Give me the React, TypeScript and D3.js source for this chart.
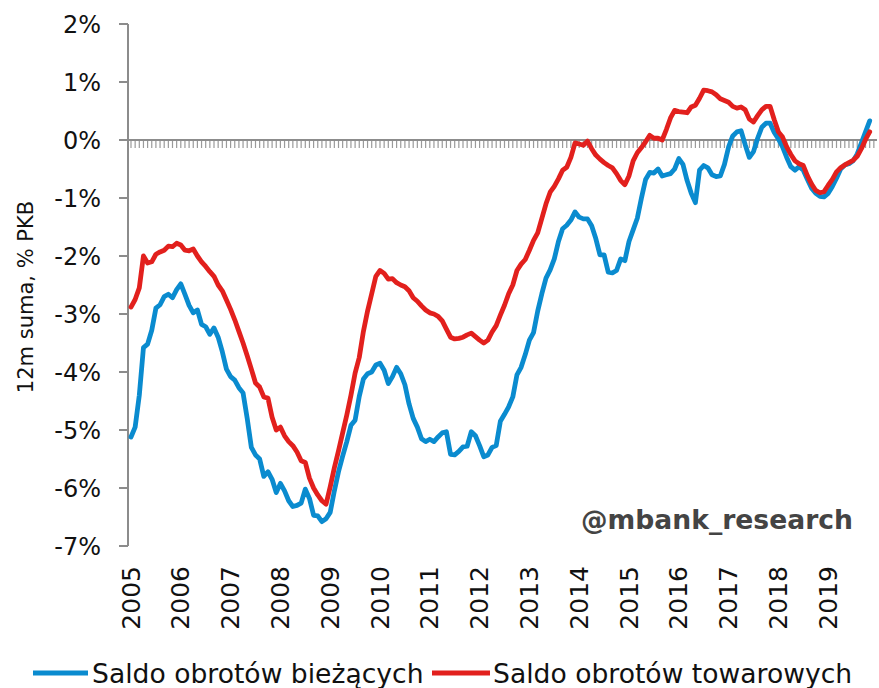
import React from 'react'
import * as d3 from 'd3'

// 12m rolling sum, % of GDP, monthly from Jan 2005
const yearLabels = ['2005', '2006', '2007', '2008', '2009', '2010', '2011', '2012', '2013', '2014', '2015', '2016', '2017', '2018', '2019']
const yTicks = [2, 1, 0, -1, -2, -3, -4, -5, -6, -7]

const currentAccount = [
  -5.12, -4.95, -4.4, -3.58, -3.52, -3.28, -2.9, -2.84, -2.7, -2.66, -2.72, -2.58,
  -2.48, -2.66, -2.85, -2.98, -2.93, -3.18, -3.22, -3.35, -3.24, -3.4, -3.65, -3.95,
  -4.08, -4.14, -4.27, -4.36, -4.8, -5.3, -5.43, -5.5, -5.8, -5.72, -5.85, -6.08,
  -5.92, -6.05, -6.22, -6.32, -6.3, -6.26, -6.02, -6.18, -6.47, -6.48, -6.58, -6.53,
  -6.42, -6.05, -5.72, -5.45, -5.2, -4.92, -4.83, -4.42, -4.12, -4.03, -4.0, -3.88,
  -3.85, -3.97, -4.2, -4.08, -3.92, -4.03, -4.22, -4.55, -4.8, -4.95, -5.15, -5.2,
  -5.16, -5.2, -5.12, -5.05, -5.03, -5.42, -5.43, -5.37, -5.29, -5.28, -5.03, -5.1,
  -5.27, -5.46, -5.43, -5.3, -5.27, -4.85, -4.73, -4.6, -4.43, -4.05, -3.92, -3.7,
  -3.45, -3.32, -2.95, -2.65, -2.38, -2.24, -2.05, -1.75, -1.53, -1.47, -1.38, -1.24,
  -1.33, -1.36, -1.36, -1.48, -1.7, -1.98, -1.98, -2.28, -2.29, -2.25, -2.05, -2.08,
  -1.75, -1.55, -1.35, -1.0, -0.68, -0.56, -0.57, -0.5, -0.62, -0.6, -0.58, -0.5,
  -0.32, -0.42, -0.7, -0.92, -1.08, -0.52, -0.44, -0.48, -0.6, -0.63, -0.62, -0.42,
  -0.12, 0.07, 0.14, 0.16, -0.08, -0.3, -0.2, 0.03, 0.22, 0.29, 0.29, 0.13,
  0.02, -0.12, -0.3, -0.46, -0.52, -0.46, -0.52, -0.68, -0.83, -0.92, -0.97, -0.98,
  -0.92, -0.8, -0.66, -0.5, -0.43, -0.41, -0.36, -0.24, -0.05, 0.14, 0.33
]

const tradeBalance = [
  -2.88, -2.75, -2.55, -2.0, -2.12, -2.1, -1.97, -1.93, -1.9, -1.83, -1.84, -1.78,
  -1.81, -1.9, -1.91, -1.88, -2.0, -2.1, -2.18, -2.27, -2.35, -2.5, -2.6, -2.76,
  -2.92, -3.1, -3.3, -3.5, -3.72, -3.95, -4.19, -4.26, -4.43, -4.45, -4.78, -5.0,
  -4.95, -5.1, -5.2, -5.27, -5.38, -5.53, -5.56, -5.83, -6.0, -6.12, -6.22, -6.28,
  -5.98, -5.65, -5.36, -5.05, -4.74, -4.4, -4.02, -3.75, -3.3, -2.95, -2.65, -2.35,
  -2.25, -2.3, -2.4, -2.39, -2.46, -2.5, -2.53, -2.6, -2.72, -2.78, -2.86, -2.93,
  -2.98, -3.0, -3.04, -3.12, -3.26, -3.4, -3.43, -3.42, -3.4, -3.36, -3.33, -3.39,
  -3.45, -3.5, -3.45, -3.31, -3.2, -3.02, -2.85, -2.65, -2.5, -2.25, -2.14, -2.06,
  -1.9, -1.73, -1.6, -1.35, -1.1, -0.9, -0.8, -0.67, -0.52, -0.47, -0.3, -0.05,
  -0.07, -0.09, -0.02, -0.15, -0.26, -0.33, -0.39, -0.44, -0.48, -0.58, -0.7, -0.77,
  -0.62, -0.36, -0.22, -0.13, -0.03, 0.08, 0.03, 0.03, 0.0, 0.18, 0.38, 0.51,
  0.49, 0.48, 0.47, 0.57, 0.6, 0.72, 0.86, 0.85, 0.83, 0.78, 0.71, 0.68,
  0.65, 0.58, 0.55, 0.57, 0.52, 0.36, 0.31, 0.42, 0.52, 0.58, 0.58, 0.35,
  0.14, 0.05, -0.12, -0.25, -0.36, -0.41, -0.44, -0.62, -0.76, -0.87, -0.91, -0.89,
  -0.78, -0.68, -0.55, -0.48, -0.43, -0.39, -0.35, -0.28, -0.15, 0.01, 0.14
]

const seriesNames = ['Saldo obrotów bieżących', 'Saldo obrotów towarowych']
const colors = ['#0a8bcf', '#e2201d']

const W = 879
const H = 688
const FONT = '"DejaVu Sans", Verdana, sans-serif'

export default function App() {
  const nMonths = currentAccount.length
  const x = d3.scaleLinear().domain([0, nMonths - 1]).range([131, 131 + 4.15 * (nMonths - 1)])
  const y = d3.scaleLinear().domain([-7, 2]).range([546, 24])

  const line = d3.line<number>()
    .x((d, i) => x(i))
    .y(d => y(d))

  const axisX = 128
  const monthTicks = d3.range(nMonths + 1)

  return (
    <svg width={W} height={H} style={{ position: 'absolute', left: 0, top: 0, background: '#fff' }}
      fontFamily={FONT}>
      {/* zero line with monthly ticks */}
      <line x1={axisX} x2={877} y1={y(0)} y2={y(0)} stroke="#8c8c8c" strokeWidth={2} />
      {monthTicks.map(i => (
        <line key={i} x1={x(i)} x2={x(i)} y1={y(0) + 1} y2={y(0) + 8} stroke="#9a9a9a" strokeWidth={1.2} />
      ))}

      {/* y axis */}
      <line x1={axisX} x2={axisX} y1={y(2)} y2={y(-7)} stroke="#8c8c8c" strokeWidth={2} />
      {yTicks.map(t => (
        <g key={t}>
          <line x1={axisX - 9} x2={axisX} y1={y(t)} y2={y(t)} stroke="#8c8c8c" strokeWidth={2} />
          <text x={101} y={y(t)} dy="0.36em" textAnchor="end" fontSize={24} fill="#111">
            {t + '%'}
          </text>
        </g>
      ))}
      <text transform={`translate(26,${297}) rotate(-90)`} textAnchor="middle" dominantBaseline="central"
        fontSize={21} fill="#111">12m suma, % PKB</text>

      {/* year labels */}
      {yearLabels.map((lab, k) => (
        <text key={lab} transform={`translate(${x(k * 12)},566) rotate(-90)`} textAnchor="end"
          dominantBaseline="central" fontSize={25} fill="#111">{lab}</text>
      ))}

      {/* series */}
      {[currentAccount, tradeBalance].map((s, i) => (
        <path key={i} d={line(s) || ''} fill="none" stroke={colors[i]} strokeWidth={4.8}
          strokeLinejoin="round" strokeLinecap="round" />
      ))}

      <text x={853} y={529} textAnchor="end" fontSize={26.6} fontWeight="bold" fill="#444">@mbank_research</text>

      {/* legend */}
      <line x1={33} x2={88} y1={673} y2={673} stroke={colors[0]} strokeWidth={5} />
      <text x={92} y={683} fontSize={26.6} fill="#111">{seriesNames[0]}</text>
      <line x1={432} x2={490} y1={673} y2={673} stroke={colors[1]} strokeWidth={5} />
      <text x={493} y={683} fontSize={26.6} fill="#111">{seriesNames[1]}</text>
    </svg>
  )
}
